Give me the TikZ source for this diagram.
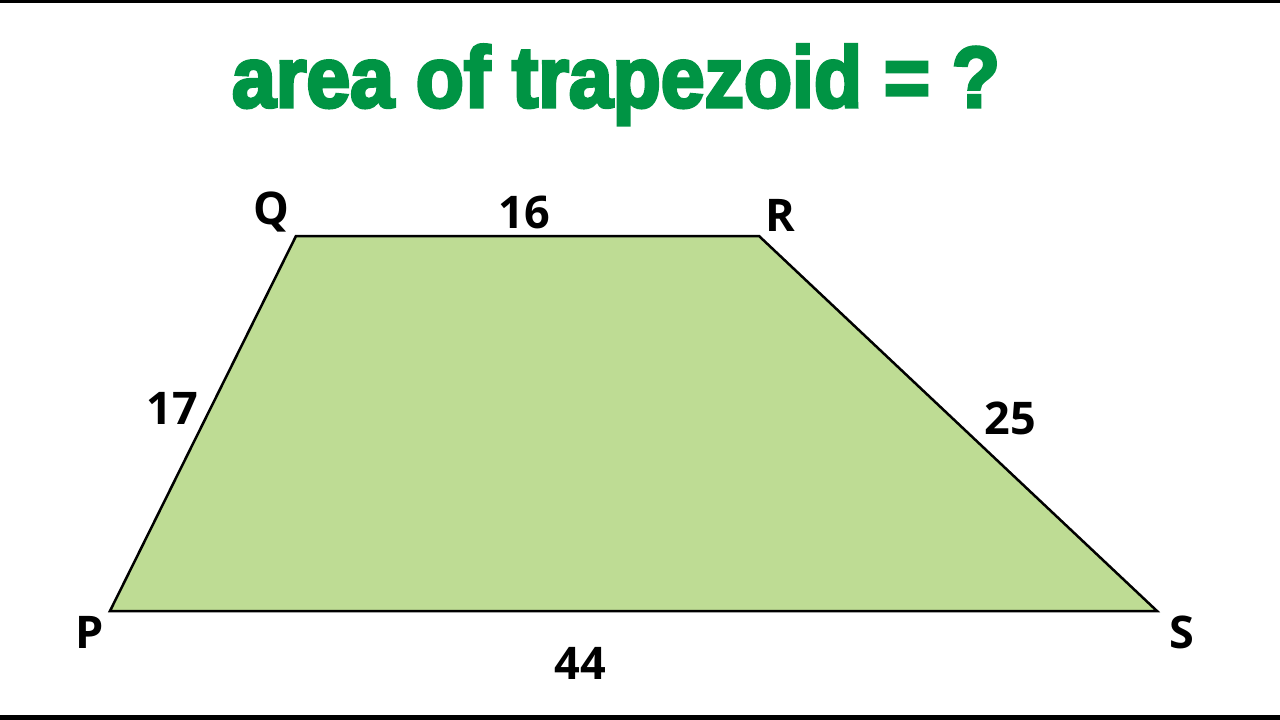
\documentclass[tikz,border=0pt]{standalone}
\usepackage{fontspec}
\usepackage{graphicx}
\setmainfont{Open Sans}
\newfontfamily\titlefont[FakeBold=4]{Liberation Sans Bold}
\definecolor{titlegreen}{RGB}{0,148,68}
\definecolor{trapfill}{RGB}{190,220,148}
\begin{document}
\begin{tikzpicture}[x=1pt,y=-1pt,
  lbl/.style={font=\fontsize{45}{45}\selectfont\bfseries,text=black,inner sep=0pt,anchor=center}]
\useasboundingbox (0,0) rectangle (1280,720);
\fill[white] (0,0) rectangle (1280,720);
\fill[black] (0,0) rectangle (1280,3);
\fill[black] (0,715) rectangle (1280,720);
\node[text=titlegreen,inner sep=0pt,anchor=base] (title) at (616,107)
  {\resizebox{768pt}{\height}{\titlefont\fontsize{86}{86}\selectfont area of trapezoid = ?}};
\coordinate (P) at (110,611);
\coordinate (Q) at (296,236);
\coordinate (R) at (759,236);
\coordinate (S) at (1157,611);
\filldraw[fill=trapfill,draw=black,line width=2.5pt,line join=miter] (P) -- (Q) -- (R) -- (S) -- cycle;
\node[lbl] (lQ) at (271,212) {Q};
\node[lbl] (lR) at (780,215) {R};
\node[lbl] (lP) at (90,632) {P};
\node[lbl] (lS) at (1182,632) {S};
\node[lbl] (l16) at (524,212) {16};
\node[lbl] (l17) at (172,408) {17};
\node[lbl] (l25) at (1010,418) {25};
\node[lbl] (l44) at (580,663) {44};
\end{tikzpicture}
\end{document}
